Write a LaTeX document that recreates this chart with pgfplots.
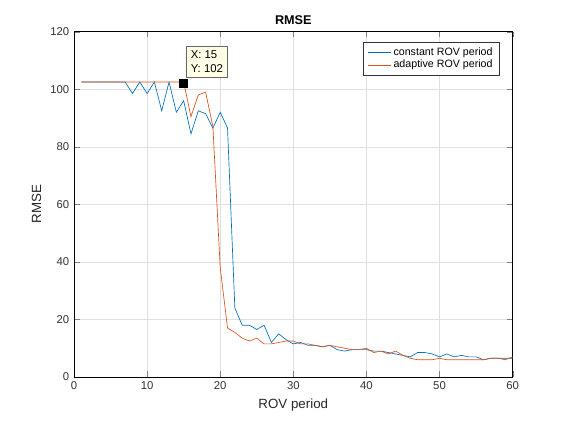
\documentclass[border=0pt]{standalone}
\usepackage{pgfplots}
\pgfplotsset{compat=1.18}
\usepackage{fontspec}
\setmainfont{Liberation Sans}
\definecolor{mblue}{RGB}{0,114,189}
\definecolor{morange}{RGB}{217,83,25}
\begin{document}
\begin{tikzpicture}
\path[use as bounding box] (-55.5pt,-35.25pt) rectangle (370.5pt,282.75pt);
\begin{axis}[at={(0,0)},anchor=south west,scale only axis,width=329pt,height=259pt,
xmin=0,xmax=60,ymin=0,ymax=120,xtick={0,10,...,60},ytick={0,20,...,120},
grid=major,grid style={gray!25},tick align=inside,
/pgf/number format/assume math mode=true,
ticklabel style={font=\fontsize{8.5}{10}\selectfont,color=black!80},
title={\textbf{RMSE}},title style={font=\fontsize{9.5}{11}\selectfont,yshift=-4pt},
xlabel={ROV period},ylabel={RMSE},label style={font=\fontsize{10}{12}\selectfont,color=black!85},
legend style={at={(0.97,0.97)},anchor=north east,font=\fontsize{8}{9.5}\selectfont,draw=black!80,row sep=-2pt},
legend cell align=left]
\addplot[mblue,line width=0.5pt] coordinates {(1,102.5)(2,102.5)(3,102.5)(4,102.5)(5,102.5)(6,102.5)(7,102.5)(8,98.5)(9,102.5)(10,98.5)(11,102.5)(12,92.5)(13,102.5)(14,92)(15,96)(16,84.5)(17,92.5)(18,91.5)(19,86.5)(20,92)(21,86.5)(22,24)(23,18)(24,18)(25,16.5)(26,18)(27,12)(28,15)(29,13)(30,11.5)(31,12)(32,11)(33,11)(34,10.5)(35,11)(36,9.5)(37,9)(38,9.5)(39,9.5)(40,9.5)(41,9)(42,9)(43,8.5)(44,8)(45,7.5)(46,7)(47,8.5)(48,8.5)(49,8)(50,7)(51,8)(52,7)(53,7.5)(54,7)(55,7)(56,6)(57,6.5)(58,6.5)(59,6.5)(60,6.5)};
\addlegendentry{constant ROV period}
\addplot[morange,line width=0.5pt] coordinates {(1,102.5)(2,102.5)(3,102.5)(4,102.5)(5,102.5)(6,102.5)(7,102.5)(8,102.5)(9,102.5)(10,102.5)(11,102.5)(12,102.5)(13,102.5)(14,102.5)(15,102.5)(16,90.5)(17,98)(18,99)(19,87)(20,38)(21,17)(22,15.5)(23,13.5)(24,12.5)(25,13.5)(26,11.5)(27,11.5)(28,12)(29,12.5)(30,12.5)(31,11.5)(32,11.5)(33,11)(34,10.5)(35,11)(36,10.5)(37,10)(38,9.5)(39,9.5)(40,10)(41,8.5)(42,9)(43,8)(44,9)(45,7.5)(46,6.5)(47,6)(48,6)(49,6)(50,6.5)(51,6)(52,6)(53,6)(54,6)(55,6)(56,6)(57,6.5)(58,6.5)(59,6)(60,7)};
\addlegendentry{adaptive ROV period}
\addplot[only marks,mark=square*,mark size=3pt,black,forget plot] coordinates {(15,102)};
\node[draw=black!60,fill=yellow!10,anchor=south west,align=left,font=\fontsize{8.5}{10.5}\selectfont,inner sep=3.5pt] at (axis cs:15.3,104) {X: 15\\Y: 102};
\end{axis}
\end{tikzpicture}
\end{document}
